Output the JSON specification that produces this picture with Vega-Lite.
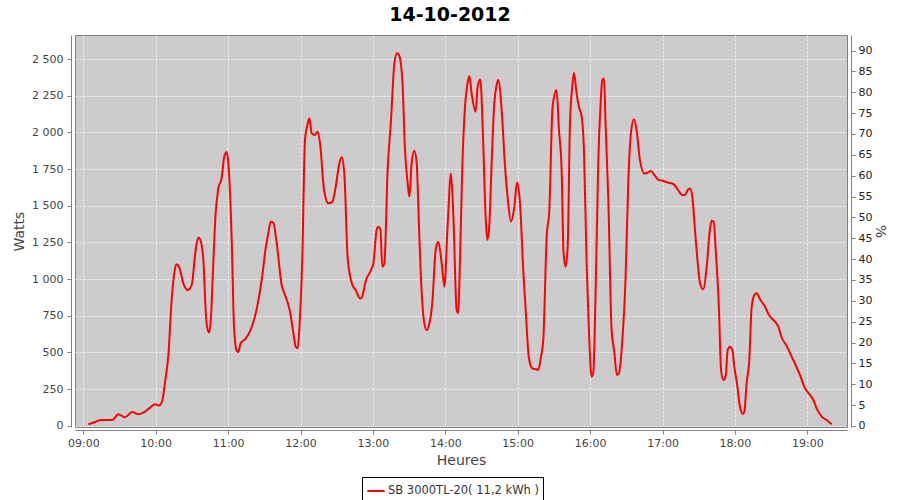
{
  "$schema": "https://vega.github.io/schema/vega-lite/v6.json",
  "autosize": "none",
  "width": 772,
  "height": 392,
  "padding": {"left": 75, "top": 35, "right": 53, "bottom": 73},
  "background": "#ffffff",
  "title": {"text": "14-10-2012", "font": "DejaVu Sans", "fontSize": 19, "fontWeight": "bold", "color": "#000000", "anchor": "middle", "dx": -11, "offset": 10},
  "config": {
    "view": {"fill": "#cccccc", "stroke": "#808080", "strokeWidth": 1},
    "axis": {"labelFont": "DejaVu Sans", "labelFontSize": 11, "labelColor": "#444444", "titleFont": "DejaVu Sans", "titleFontSize": 14, "titleFontWeight": "normal", "titleColor": "#444444", "domainColor": "#808080", "tickColor": "#808080", "tickSize": 4, "gridColor": "#ffffff", "gridOpacity": 0.8, "gridDash": [2, 2], "gridWidth": 1}
  },
  "datasets": {
    "pv": [
    {"time": "2012-10-14T09:04:12", "watts": 9, "series": "SB 3000TL-20( 11,2 kWh )"},
    {"time": "2012-10-14T09:09:42", "watts": 25, "series": "SB 3000TL-20( 11,2 kWh )"},
    {"time": "2012-10-14T09:14:42", "watts": 39, "series": "SB 3000TL-20( 11,2 kWh )"},
    {"time": "2012-10-14T09:24:00", "watts": 39, "series": "SB 3000TL-20( 11,2 kWh )"},
    {"time": "2012-10-14T09:29:00", "watts": 78, "series": "SB 3000TL-20( 11,2 kWh )"},
    {"time": "2012-10-14T09:34:30", "watts": 57, "series": "SB 3000TL-20( 11,2 kWh )"},
    {"time": "2012-10-14T09:40:36", "watts": 93, "series": "SB 3000TL-20( 11,2 kWh )"},
    {"time": "2012-10-14T09:45:36", "watts": 78, "series": "SB 3000TL-20( 11,2 kWh )"},
    {"time": "2012-10-14T09:49:42", "watts": 89, "series": "SB 3000TL-20( 11,2 kWh )"},
    {"time": "2012-10-14T09:55:18", "watts": 123, "series": "SB 3000TL-20( 11,2 kWh )"},
    {"time": "2012-10-14T09:59:30", "watts": 146, "series": "SB 3000TL-20( 11,2 kWh )"},
    {"time": "2012-10-14T10:02:42", "watts": 137, "series": "SB 3000TL-20( 11,2 kWh )"},
    {"time": "2012-10-14T10:05:30", "watts": 171, "series": "SB 3000TL-20( 11,2 kWh )"},
    {"time": "2012-10-14T10:07:36", "watts": 289, "series": "SB 3000TL-20( 11,2 kWh )"},
    {"time": "2012-10-14T10:10:30", "watts": 482, "series": "SB 3000TL-20( 11,2 kWh )"},
    {"time": "2012-10-14T10:13:12", "watts": 857, "series": "SB 3000TL-20( 11,2 kWh )"},
    {"time": "2012-10-14T10:15:24", "watts": 1039, "series": "SB 3000TL-20( 11,2 kWh )"},
    {"time": "2012-10-14T10:17:00", "watts": 1100, "series": "SB 3000TL-20( 11,2 kWh )"},
    {"time": "2012-10-14T10:19:18", "watts": 1084, "series": "SB 3000TL-20( 11,2 kWh )"},
    {"time": "2012-10-14T10:22:54", "watts": 971, "series": "SB 3000TL-20( 11,2 kWh )"},
    {"time": "2012-10-14T10:26:30", "watts": 925, "series": "SB 3000TL-20( 11,2 kWh )"},
    {"time": "2012-10-14T10:29:48", "watts": 959, "series": "SB 3000TL-20( 11,2 kWh )"},
    {"time": "2012-10-14T10:33:06", "watts": 1198, "series": "SB 3000TL-20( 11,2 kWh )"},
    {"time": "2012-10-14T10:35:18", "watts": 1284, "series": "SB 3000TL-20( 11,2 kWh )"},
    {"time": "2012-10-14T10:37:00", "watts": 1266, "series": "SB 3000TL-20( 11,2 kWh )"},
    {"time": "2012-10-14T10:39:30", "watts": 1130, "series": "SB 3000TL-20( 11,2 kWh )"},
    {"time": "2012-10-14T10:41:42", "watts": 743, "series": "SB 3000TL-20( 11,2 kWh )"},
    {"time": "2012-10-14T10:42:48", "watts": 664, "series": "SB 3000TL-20( 11,2 kWh )"},
    {"time": "2012-10-14T10:44:24", "watts": 635, "series": "SB 3000TL-20( 11,2 kWh )"},
    {"time": "2012-10-14T10:45:48", "watts": 743, "series": "SB 3000TL-20( 11,2 kWh )"},
    {"time": "2012-10-14T10:47:42", "watts": 1107, "series": "SB 3000TL-20( 11,2 kWh )"},
    {"time": "2012-10-14T10:49:42", "watts": 1452, "series": "SB 3000TL-20( 11,2 kWh )"},
    {"time": "2012-10-14T10:51:54", "watts": 1618, "series": "SB 3000TL-20( 11,2 kWh )"},
    {"time": "2012-10-14T10:54:36", "watts": 1687, "series": "SB 3000TL-20( 11,2 kWh )"},
    {"time": "2012-10-14T10:56:54", "watts": 1839, "series": "SB 3000TL-20( 11,2 kWh )"},
    {"time": "2012-10-14T10:58:48", "watts": 1866, "series": "SB 3000TL-20( 11,2 kWh )"},
    {"time": "2012-10-14T11:00:12", "watts": 1789, "series": "SB 3000TL-20( 11,2 kWh )"},
    {"time": "2012-10-14T11:03:00", "watts": 1266, "series": "SB 3000TL-20( 11,2 kWh )"},
    {"time": "2012-10-14T11:04:54", "watts": 675, "series": "SB 3000TL-20( 11,2 kWh )"},
    {"time": "2012-10-14T11:07:06", "watts": 512, "series": "SB 3000TL-20( 11,2 kWh )"},
    {"time": "2012-10-14T11:08:30", "watts": 503, "series": "SB 3000TL-20( 11,2 kWh )"},
    {"time": "2012-10-14T11:10:24", "watts": 562, "series": "SB 3000TL-20( 11,2 kWh )"},
    {"time": "2012-10-14T11:14:00", "watts": 589, "series": "SB 3000TL-20( 11,2 kWh )"},
    {"time": "2012-10-14T11:18:42", "watts": 653, "series": "SB 3000TL-20( 11,2 kWh )"},
    {"time": "2012-10-14T11:24:12", "watts": 816, "series": "SB 3000TL-20( 11,2 kWh )"},
    {"time": "2012-10-14T11:28:24", "watts": 1027, "series": "SB 3000TL-20( 11,2 kWh )"},
    {"time": "2012-10-14T11:31:06", "watts": 1209, "series": "SB 3000TL-20( 11,2 kWh )"},
    {"time": "2012-10-14T11:33:18", "watts": 1311, "series": "SB 3000TL-20( 11,2 kWh )"},
    {"time": "2012-10-14T11:35:18", "watts": 1391, "series": "SB 3000TL-20( 11,2 kWh )"},
    {"time": "2012-10-14T11:37:30", "watts": 1384, "series": "SB 3000TL-20( 11,2 kWh )"},
    {"time": "2012-10-14T11:40:18", "watts": 1243, "series": "SB 3000TL-20( 11,2 kWh )"},
    {"time": "2012-10-14T11:44:24", "watts": 959, "series": "SB 3000TL-20( 11,2 kWh )"},
    {"time": "2012-10-14T11:46:36", "watts": 903, "series": "SB 3000TL-20( 11,2 kWh )"},
    {"time": "2012-10-14T11:51:18", "watts": 778, "series": "SB 3000TL-20( 11,2 kWh )"},
    {"time": "2012-10-14T11:54:06", "watts": 630, "series": "SB 3000TL-20( 11,2 kWh )"},
    {"time": "2012-10-14T11:56:00", "watts": 539, "series": "SB 3000TL-20( 11,2 kWh )"},
    {"time": "2012-10-14T11:57:42", "watts": 528, "series": "SB 3000TL-20( 11,2 kWh )"},
    {"time": "2012-10-14T11:59:18", "watts": 698, "series": "SB 3000TL-20( 11,2 kWh )"},
    {"time": "2012-10-14T12:01:30", "watts": 1152, "series": "SB 3000TL-20( 11,2 kWh )"},
    {"time": "2012-10-14T12:03:42", "watts": 1948, "series": "SB 3000TL-20( 11,2 kWh )"},
    {"time": "2012-10-14T12:05:42", "watts": 2050, "series": "SB 3000TL-20( 11,2 kWh )"},
    {"time": "2012-10-14T12:07:18", "watts": 2096, "series": "SB 3000TL-20( 11,2 kWh )"},
    {"time": "2012-10-14T12:09:18", "watts": 1993, "series": "SB 3000TL-20( 11,2 kWh )"},
    {"time": "2012-10-14T12:12:00", "watts": 1982, "series": "SB 3000TL-20( 11,2 kWh )"},
    {"time": "2012-10-14T12:14:00", "watts": 2005, "series": "SB 3000TL-20( 11,2 kWh )"},
    {"time": "2012-10-14T12:16:12", "watts": 1925, "series": "SB 3000TL-20( 11,2 kWh )"},
    {"time": "2012-10-14T12:19:30", "watts": 1607, "series": "SB 3000TL-20( 11,2 kWh )"},
    {"time": "2012-10-14T12:23:06", "watts": 1516, "series": "SB 3000TL-20( 11,2 kWh )"},
    {"time": "2012-10-14T12:26:24", "watts": 1527, "series": "SB 3000TL-20( 11,2 kWh )"},
    {"time": "2012-10-14T12:29:24", "watts": 1641, "series": "SB 3000TL-20( 11,2 kWh )"},
    {"time": "2012-10-14T12:31:54", "watts": 1778, "series": "SB 3000TL-20( 11,2 kWh )"},
    {"time": "2012-10-14T12:34:06", "watts": 1830, "series": "SB 3000TL-20( 11,2 kWh )"},
    {"time": "2012-10-14T12:36:18", "watts": 1720, "series": "SB 3000TL-20( 11,2 kWh )"},
    {"time": "2012-10-14T12:39:06", "watts": 1141, "series": "SB 3000TL-20( 11,2 kWh )"},
    {"time": "2012-10-14T12:43:00", "watts": 959, "series": "SB 3000TL-20( 11,2 kWh )"},
    {"time": "2012-10-14T12:45:42", "watts": 925, "series": "SB 3000TL-20( 11,2 kWh )"},
    {"time": "2012-10-14T12:49:18", "watts": 868, "series": "SB 3000TL-20( 11,2 kWh )"},
    {"time": "2012-10-14T12:50:42", "watts": 873, "series": "SB 3000TL-20( 11,2 kWh )"},
    {"time": "2012-10-14T12:54:18", "watts": 993, "series": "SB 3000TL-20( 11,2 kWh )"},
    {"time": "2012-10-14T12:58:24", "watts": 1061, "series": "SB 3000TL-20( 11,2 kWh )"},
    {"time": "2012-10-14T13:00:24", "watts": 1107, "series": "SB 3000TL-20( 11,2 kWh )"},
    {"time": "2012-10-14T13:03:06", "watts": 1334, "series": "SB 3000TL-20( 11,2 kWh )"},
    {"time": "2012-10-14T13:04:30", "watts": 1357, "series": "SB 3000TL-20( 11,2 kWh )"},
    {"time": "2012-10-14T13:06:12", "watts": 1334, "series": "SB 3000TL-20( 11,2 kWh )"},
    {"time": "2012-10-14T13:07:48", "watts": 1084, "series": "SB 3000TL-20( 11,2 kWh )"},
    {"time": "2012-10-14T13:09:30", "watts": 1107, "series": "SB 3000TL-20( 11,2 kWh )"},
    {"time": "2012-10-14T13:12:12", "watts": 1743, "series": "SB 3000TL-20( 11,2 kWh )"},
    {"time": "2012-10-14T13:15:00", "watts": 2084, "series": "SB 3000TL-20( 11,2 kWh )"},
    {"time": "2012-10-14T13:17:48", "watts": 2471, "series": "SB 3000TL-20( 11,2 kWh )"},
    {"time": "2012-10-14T13:20:00", "watts": 2539, "series": "SB 3000TL-20( 11,2 kWh )"},
    {"time": "2012-10-14T13:21:36", "watts": 2527, "series": "SB 3000TL-20( 11,2 kWh )"},
    {"time": "2012-10-14T13:24:24", "watts": 2357, "series": "SB 3000TL-20( 11,2 kWh )"},
    {"time": "2012-10-14T13:26:36", "watts": 1880, "series": "SB 3000TL-20( 11,2 kWh )"},
    {"time": "2012-10-14T13:28:48", "watts": 1652, "series": "SB 3000TL-20( 11,2 kWh )"},
    {"time": "2012-10-14T13:30:12", "watts": 1561, "series": "SB 3000TL-20( 11,2 kWh )"},
    {"time": "2012-10-14T13:32:06", "watts": 1789, "series": "SB 3000TL-20( 11,2 kWh )"},
    {"time": "2012-10-14T13:34:18", "watts": 1875, "series": "SB 3000TL-20( 11,2 kWh )"},
    {"time": "2012-10-14T13:36:18", "watts": 1789, "series": "SB 3000TL-20( 11,2 kWh )"},
    {"time": "2012-10-14T13:38:12", "watts": 1357, "series": "SB 3000TL-20( 11,2 kWh )"},
    {"time": "2012-10-14T13:39:54", "watts": 993, "series": "SB 3000TL-20( 11,2 kWh )"},
    {"time": "2012-10-14T13:42:36", "watts": 698, "series": "SB 3000TL-20( 11,2 kWh )"},
    {"time": "2012-10-14T13:44:36", "watts": 653, "series": "SB 3000TL-20( 11,2 kWh )"},
    {"time": "2012-10-14T13:46:30", "watts": 687, "series": "SB 3000TL-20( 11,2 kWh )"},
    {"time": "2012-10-14T13:49:18", "watts": 846, "series": "SB 3000TL-20( 11,2 kWh )"},
    {"time": "2012-10-14T13:52:00", "watts": 1198, "series": "SB 3000TL-20( 11,2 kWh )"},
    {"time": "2012-10-14T13:54:12", "watts": 1255, "series": "SB 3000TL-20( 11,2 kWh )"},
    {"time": "2012-10-14T13:57:00", "watts": 1107, "series": "SB 3000TL-20( 11,2 kWh )"},
    {"time": "2012-10-14T13:59:12", "watts": 948, "series": "SB 3000TL-20( 11,2 kWh )"},
    {"time": "2012-10-14T14:02:00", "watts": 1380, "series": "SB 3000TL-20( 11,2 kWh )"},
    {"time": "2012-10-14T14:04:42", "watts": 1720, "series": "SB 3000TL-20( 11,2 kWh )"},
    {"time": "2012-10-14T14:06:42", "watts": 1425, "series": "SB 3000TL-20( 11,2 kWh )"},
    {"time": "2012-10-14T14:09:24", "watts": 789, "series": "SB 3000TL-20( 11,2 kWh )"},
    {"time": "2012-10-14T14:10:48", "watts": 766, "series": "SB 3000TL-20( 11,2 kWh )"},
    {"time": "2012-10-14T14:12:06", "watts": 1107, "series": "SB 3000TL-20( 11,2 kWh )"},
    {"time": "2012-10-14T14:14:06", "watts": 1766, "series": "SB 3000TL-20( 11,2 kWh )"},
    {"time": "2012-10-14T14:16:18", "watts": 2175, "series": "SB 3000TL-20( 11,2 kWh )"},
    {"time": "2012-10-14T14:18:12", "watts": 2323, "series": "SB 3000TL-20( 11,2 kWh )"},
    {"time": "2012-10-14T14:19:54", "watts": 2384, "series": "SB 3000TL-20( 11,2 kWh )"},
    {"time": "2012-10-14T14:21:48", "watts": 2266, "series": "SB 3000TL-20( 11,2 kWh )"},
    {"time": "2012-10-14T14:25:06", "watts": 2141, "series": "SB 3000TL-20( 11,2 kWh )"},
    {"time": "2012-10-14T14:26:48", "watts": 2311, "series": "SB 3000TL-20( 11,2 kWh )"},
    {"time": "2012-10-14T14:29:00", "watts": 2361, "series": "SB 3000TL-20( 11,2 kWh )"},
    {"time": "2012-10-14T14:31:30", "watts": 1902, "series": "SB 3000TL-20( 11,2 kWh )"},
    {"time": "2012-10-14T14:33:24", "watts": 1425, "series": "SB 3000TL-20( 11,2 kWh )"},
    {"time": "2012-10-14T14:34:48", "watts": 1266, "series": "SB 3000TL-20( 11,2 kWh )"},
    {"time": "2012-10-14T14:36:24", "watts": 1357, "series": "SB 3000TL-20( 11,2 kWh )"},
    {"time": "2012-10-14T14:38:24", "watts": 1789, "series": "SB 3000TL-20( 11,2 kWh )"},
    {"time": "2012-10-14T14:40:36", "watts": 2198, "series": "SB 3000TL-20( 11,2 kWh )"},
    {"time": "2012-10-14T14:42:30", "watts": 2323, "series": "SB 3000TL-20( 11,2 kWh )"},
    {"time": "2012-10-14T14:43:54", "watts": 2357, "series": "SB 3000TL-20( 11,2 kWh )"},
    {"time": "2012-10-14T14:46:42", "watts": 2152, "series": "SB 3000TL-20( 11,2 kWh )"},
    {"time": "2012-10-14T14:49:24", "watts": 1778, "series": "SB 3000TL-20( 11,2 kWh )"},
    {"time": "2012-10-14T14:51:36", "watts": 1561, "series": "SB 3000TL-20( 11,2 kWh )"},
    {"time": "2012-10-14T14:54:24", "watts": 1391, "series": "SB 3000TL-20( 11,2 kWh )"},
    {"time": "2012-10-14T14:57:12", "watts": 1493, "series": "SB 3000TL-20( 11,2 kWh )"},
    {"time": "2012-10-14T14:59:24", "watts": 1659, "series": "SB 3000TL-20( 11,2 kWh )"},
    {"time": "2012-10-14T15:01:54", "watts": 1516, "series": "SB 3000TL-20( 11,2 kWh )"},
    {"time": "2012-10-14T15:04:36", "watts": 1061, "series": "SB 3000TL-20( 11,2 kWh )"},
    {"time": "2012-10-14T15:06:36", "watts": 789, "series": "SB 3000TL-20( 11,2 kWh )"},
    {"time": "2012-10-14T15:09:18", "watts": 460, "series": "SB 3000TL-20( 11,2 kWh )"},
    {"time": "2012-10-14T15:12:06", "watts": 391, "series": "SB 3000TL-20( 11,2 kWh )"},
    {"time": "2012-10-14T15:15:06", "watts": 385, "series": "SB 3000TL-20( 11,2 kWh )"},
    {"time": "2012-10-14T15:17:06", "watts": 380, "series": "SB 3000TL-20( 11,2 kWh )"},
    {"time": "2012-10-14T15:19:18", "watts": 471, "series": "SB 3000TL-20( 11,2 kWh )"},
    {"time": "2012-10-14T15:21:12", "watts": 585, "series": "SB 3000TL-20( 11,2 kWh )"},
    {"time": "2012-10-14T15:24:00", "watts": 1289, "series": "SB 3000TL-20( 11,2 kWh )"},
    {"time": "2012-10-14T15:26:12", "watts": 1471, "series": "SB 3000TL-20( 11,2 kWh )"},
    {"time": "2012-10-14T15:28:54", "watts": 2175, "series": "SB 3000TL-20( 11,2 kWh )"},
    {"time": "2012-10-14T15:32:12", "watts": 2289, "series": "SB 3000TL-20( 11,2 kWh )"},
    {"time": "2012-10-14T15:34:12", "watts": 2016, "series": "SB 3000TL-20( 11,2 kWh )"},
    {"time": "2012-10-14T15:36:24", "watts": 1743, "series": "SB 3000TL-20( 11,2 kWh )"},
    {"time": "2012-10-14T15:38:00", "watts": 1175, "series": "SB 3000TL-20( 11,2 kWh )"},
    {"time": "2012-10-14T15:39:42", "watts": 1084, "series": "SB 3000TL-20( 11,2 kWh )"},
    {"time": "2012-10-14T15:41:24", "watts": 1220, "series": "SB 3000TL-20( 11,2 kWh )"},
    {"time": "2012-10-14T15:43:18", "watts": 2061, "series": "SB 3000TL-20( 11,2 kWh )"},
    {"time": "2012-10-14T15:45:12", "watts": 2311, "series": "SB 3000TL-20( 11,2 kWh )"},
    {"time": "2012-10-14T15:46:36", "watts": 2407, "series": "SB 3000TL-20( 11,2 kWh )"},
    {"time": "2012-10-14T15:48:48", "watts": 2266, "series": "SB 3000TL-20( 11,2 kWh )"},
    {"time": "2012-10-14T15:50:42", "watts": 2175, "series": "SB 3000TL-20( 11,2 kWh )"},
    {"time": "2012-10-14T15:53:00", "watts": 2107, "series": "SB 3000TL-20( 11,2 kWh )"},
    {"time": "2012-10-14T15:54:54", "watts": 1880, "series": "SB 3000TL-20( 11,2 kWh )"},
    {"time": "2012-10-14T15:57:06", "watts": 1107, "series": "SB 3000TL-20( 11,2 kWh )"},
    {"time": "2012-10-14T15:59:00", "watts": 653, "series": "SB 3000TL-20( 11,2 kWh )"},
    {"time": "2012-10-14T16:01:12", "watts": 334, "series": "SB 3000TL-20( 11,2 kWh )"},
    {"time": "2012-10-14T16:02:36", "watts": 357, "series": "SB 3000TL-20( 11,2 kWh )"},
    {"time": "2012-10-14T16:04:36", "watts": 925, "series": "SB 3000TL-20( 11,2 kWh )"},
    {"time": "2012-10-14T16:06:48", "watts": 1811, "series": "SB 3000TL-20( 11,2 kWh )"},
    {"time": "2012-10-14T16:08:42", "watts": 2198, "series": "SB 3000TL-20( 11,2 kWh )"},
    {"time": "2012-10-14T16:10:06", "watts": 2357, "series": "SB 3000TL-20( 11,2 kWh )"},
    {"time": "2012-10-14T16:11:30", "watts": 2368, "series": "SB 3000TL-20( 11,2 kWh )"},
    {"time": "2012-10-14T16:12:48", "watts": 2061, "series": "SB 3000TL-20( 11,2 kWh )"},
    {"time": "2012-10-14T16:15:06", "watts": 1539, "series": "SB 3000TL-20( 11,2 kWh )"},
    {"time": "2012-10-14T16:17:48", "watts": 653, "series": "SB 3000TL-20( 11,2 kWh )"},
    {"time": "2012-10-14T16:20:00", "watts": 505, "series": "SB 3000TL-20( 11,2 kWh )"},
    {"time": "2012-10-14T16:22:12", "watts": 346, "series": "SB 3000TL-20( 11,2 kWh )"},
    {"time": "2012-10-14T16:23:54", "watts": 357, "series": "SB 3000TL-20( 11,2 kWh )"},
    {"time": "2012-10-14T16:26:06", "watts": 516, "series": "SB 3000TL-20( 11,2 kWh )"},
    {"time": "2012-10-14T16:29:24", "watts": 1016, "series": "SB 3000TL-20( 11,2 kWh )"},
    {"time": "2012-10-14T16:31:36", "watts": 1652, "series": "SB 3000TL-20( 11,2 kWh )"},
    {"time": "2012-10-14T16:33:48", "watts": 1993, "series": "SB 3000TL-20( 11,2 kWh )"},
    {"time": "2012-10-14T16:36:18", "watts": 2089, "series": "SB 3000TL-20( 11,2 kWh )"},
    {"time": "2012-10-14T16:38:30", "watts": 2016, "series": "SB 3000TL-20( 11,2 kWh )"},
    {"time": "2012-10-14T16:41:18", "watts": 1811, "series": "SB 3000TL-20( 11,2 kWh )"},
    {"time": "2012-10-14T16:44:54", "watts": 1720, "series": "SB 3000TL-20( 11,2 kWh )"},
    {"time": "2012-10-14T16:47:36", "watts": 1725, "series": "SB 3000TL-20( 11,2 kWh )"},
    {"time": "2012-10-14T16:50:06", "watts": 1736, "series": "SB 3000TL-20( 11,2 kWh )"},
    {"time": "2012-10-14T16:53:42", "watts": 1705, "series": "SB 3000TL-20( 11,2 kWh )"},
    {"time": "2012-10-14T16:56:00", "watts": 1680, "series": "SB 3000TL-20( 11,2 kWh )"},
    {"time": "2012-10-14T17:00:42", "watts": 1668, "series": "SB 3000TL-20( 11,2 kWh )"},
    {"time": "2012-10-14T17:04:48", "watts": 1657, "series": "SB 3000TL-20( 11,2 kWh )"},
    {"time": "2012-10-14T17:09:00", "watts": 1648, "series": "SB 3000TL-20( 11,2 kWh )"},
    {"time": "2012-10-14T17:12:36", "watts": 1611, "series": "SB 3000TL-20( 11,2 kWh )"},
    {"time": "2012-10-14T17:16:24", "watts": 1573, "series": "SB 3000TL-20( 11,2 kWh )"},
    {"time": "2012-10-14T17:18:36", "watts": 1573, "series": "SB 3000TL-20( 11,2 kWh )"},
    {"time": "2012-10-14T17:20:54", "watts": 1607, "series": "SB 3000TL-20( 11,2 kWh )"},
    {"time": "2012-10-14T17:22:48", "watts": 1618, "series": "SB 3000TL-20( 11,2 kWh )"},
    {"time": "2012-10-14T17:24:42", "watts": 1561, "series": "SB 3000TL-20( 11,2 kWh )"},
    {"time": "2012-10-14T17:26:54", "watts": 1334, "series": "SB 3000TL-20( 11,2 kWh )"},
    {"time": "2012-10-14T17:29:06", "watts": 1118, "series": "SB 3000TL-20( 11,2 kWh )"},
    {"time": "2012-10-14T17:31:06", "watts": 971, "series": "SB 3000TL-20( 11,2 kWh )"},
    {"time": "2012-10-14T17:33:48", "watts": 930, "series": "SB 3000TL-20( 11,2 kWh )"},
    {"time": "2012-10-14T17:36:36", "watts": 1084, "series": "SB 3000TL-20( 11,2 kWh )"},
    {"time": "2012-10-14T17:39:24", "watts": 1345, "series": "SB 3000TL-20( 11,2 kWh )"},
    {"time": "2012-10-14T17:40:42", "watts": 1398, "series": "SB 3000TL-20( 11,2 kWh )"},
    {"time": "2012-10-14T17:42:24", "watts": 1391, "series": "SB 3000TL-20( 11,2 kWh )"},
    {"time": "2012-10-14T17:44:06", "watts": 1198, "series": "SB 3000TL-20( 11,2 kWh )"},
    {"time": "2012-10-14T17:46:48", "watts": 789, "series": "SB 3000TL-20( 11,2 kWh )"},
    {"time": "2012-10-14T17:48:30", "watts": 380, "series": "SB 3000TL-20( 11,2 kWh )"},
    {"time": "2012-10-14T17:50:24", "watts": 312, "series": "SB 3000TL-20( 11,2 kWh )"},
    {"time": "2012-10-14T17:52:18", "watts": 334, "series": "SB 3000TL-20( 11,2 kWh )"},
    {"time": "2012-10-14T17:54:00", "watts": 516, "series": "SB 3000TL-20( 11,2 kWh )"},
    {"time": "2012-10-14T17:55:54", "watts": 539, "series": "SB 3000TL-20( 11,2 kWh )"},
    {"time": "2012-10-14T17:57:54", "watts": 516, "series": "SB 3000TL-20( 11,2 kWh )"},
    {"time": "2012-10-14T17:59:30", "watts": 403, "series": "SB 3000TL-20( 11,2 kWh )"},
    {"time": "2012-10-14T18:01:42", "watts": 289, "series": "SB 3000TL-20( 11,2 kWh )"},
    {"time": "2012-10-14T18:04:12", "watts": 130, "series": "SB 3000TL-20( 11,2 kWh )"},
    {"time": "2012-10-14T18:06:24", "watts": 80, "series": "SB 3000TL-20( 11,2 kWh )"},
    {"time": "2012-10-14T18:07:48", "watts": 96, "series": "SB 3000TL-20( 11,2 kWh )"},
    {"time": "2012-10-14T18:09:42", "watts": 289, "series": "SB 3000TL-20( 11,2 kWh )"},
    {"time": "2012-10-14T18:11:54", "watts": 448, "series": "SB 3000TL-20( 11,2 kWh )"},
    {"time": "2012-10-14T18:13:54", "watts": 812, "series": "SB 3000TL-20( 11,2 kWh )"},
    {"time": "2012-10-14T18:16:06", "watts": 891, "series": "SB 3000TL-20( 11,2 kWh )"},
    {"time": "2012-10-14T18:18:00", "watts": 903, "series": "SB 3000TL-20( 11,2 kWh )"},
    {"time": "2012-10-14T18:20:48", "watts": 862, "series": "SB 3000TL-20( 11,2 kWh )"},
    {"time": "2012-10-14T18:24:54", "watts": 812, "series": "SB 3000TL-20( 11,2 kWh )"},
    {"time": "2012-10-14T18:28:12", "watts": 755, "series": "SB 3000TL-20( 11,2 kWh )"},
    {"time": "2012-10-14T18:31:48", "watts": 721, "series": "SB 3000TL-20( 11,2 kWh )"},
    {"time": "2012-10-14T18:36:00", "watts": 675, "series": "SB 3000TL-20( 11,2 kWh )"},
    {"time": "2012-10-14T18:38:42", "watts": 603, "series": "SB 3000TL-20( 11,2 kWh )"},
    {"time": "2012-10-14T18:42:54", "watts": 544, "series": "SB 3000TL-20( 11,2 kWh )"},
    {"time": "2012-10-14T18:47:00", "watts": 471, "series": "SB 3000TL-20( 11,2 kWh )"},
    {"time": "2012-10-14T18:50:18", "watts": 414, "series": "SB 3000TL-20( 11,2 kWh )"},
    {"time": "2012-10-14T18:53:54", "watts": 346, "series": "SB 3000TL-20( 11,2 kWh )"},
    {"time": "2012-10-14T18:58:06", "watts": 255, "series": "SB 3000TL-20( 11,2 kWh )"},
    {"time": "2012-10-14T19:02:12", "watts": 210, "series": "SB 3000TL-20( 11,2 kWh )"},
    {"time": "2012-10-14T19:05:00", "watts": 175, "series": "SB 3000TL-20( 11,2 kWh )"},
    {"time": "2012-10-14T19:07:42", "watts": 118, "series": "SB 3000TL-20( 11,2 kWh )"},
    {"time": "2012-10-14T19:11:54", "watts": 62, "series": "SB 3000TL-20( 11,2 kWh )"},
    {"time": "2012-10-14T19:16:00", "watts": 39, "series": "SB 3000TL-20( 11,2 kWh )"},
    {"time": "2012-10-14T19:20:12", "watts": 9, "series": "SB 3000TL-20( 11,2 kWh )"}
    ],
    "pctAxis": [{"pct": 0}, {"pct": 90}]
  },
  "data": {"name": "pv"},
  "layer": [
    {
      "mark": {"type": "line", "strokeWidth": 2, "interpolate": "monotone", "clip": true, "color": "#ff0000"},
      "encoding": {
        "x": {"field": "time", "type": "temporal",
          "scale": {"domain": [{"year": 2012, "month": 10, "date": 14, "hours": 8, "minutes": 53, "seconds": 7}, {"year": 2012, "month": 10, "date": 14, "hours": 19, "minutes": 32, "seconds": 53}], "nice": false},
          "axis": {"title": "Heures", "format": "%H:%M", "tickCount": 11, "offset": 3, "labelPadding": 3, "titlePadding": 5, "grid": true}},
        "y": {"field": "watts", "type": "quantitative",
          "scale": {"domain": [-9, 2664], "nice": false, "zero": false},
          "axis": {"title": "Watts", "orient": "left", "values": [0, 250, 500, 750, 1000, 1250, 1500, 1750, 2000, 2250, 2500], "labelExpr": "replace(format(datum.value, ',d'), ',', ' ')", "offset": 4, "labelPadding": 4, "titlePadding": 5, "grid": true}},
        "color": {"field": "series", "type": "nominal",
          "scale": {"range": ["#ff0000"]},
          "legend": {"title": null, "orient": "none", "legendX": 287, "legendY": 442, "direction": "horizontal", "strokeColor": "#000000", "padding": 4, "labelFont": "DejaVu Sans", "labelFontSize": 11.5, "labelColor": "#333333", "labelOffset": 2, "symbolType": "stroke", "symbolStrokeWidth": 2, "symbolSize": 300}}
      }
    },
    {
      "data": {"name": "pctAxis"},
      "mark": {"type": "point", "opacity": 0},
      "encoding": {
        "y": {"field": "pct", "type": "quantitative",
          "scale": {"domain": [-0.24, 93.72], "nice": false, "zero": false},
          "axis": {"title": "%", "orient": "right", "values": [0, 5, 10, 15, 20, 25, 30, 35, 40, 45, 50, 55, 60, 65, 70, 75, 80, 85, 90], "offset": 4, "labelPadding": 3, "titlePadding": 1, "grid": false, "labelColor": "#222222"}}
      }
    }
  ],
  "resolve": {"scale": {"y": "independent"}}
}
